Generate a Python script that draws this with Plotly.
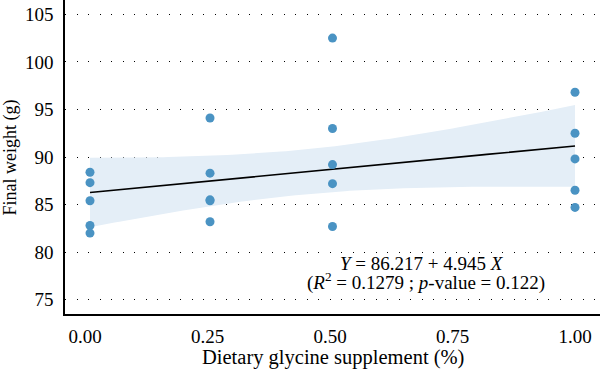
import numpy as np
import plotly.graph_objects as go

# Data
glycine = [0.01, 0.01, 0.01, 0.01, 0.01,
           0.255, 0.255, 0.255, 0.255, 0.255,
           0.505, 0.505, 0.505, 0.505, 0.505,
           1.0, 1.0, 1.0, 1.0, 1.0]
final_weight = [88.4, 87.3, 85.4, 82.8, 82.0,
                94.1, 88.3, 85.5, 85.4, 83.2,
                102.5, 93.0, 89.2, 87.2, 82.7,
                96.8, 92.5, 89.8, 86.5, 84.7]
intercept = 86.217
slope = 4.945
x_ticks = [0.0, 0.25, 0.5, 0.75, 1.0]
x_tick_labels = ["0.00", "0.25", "0.50", "0.75", "1.00"]
y_ticks = [75, 80, 85, 90, 95, 100, 105]

x = np.array(glycine)
y = np.array(final_weight)
n = len(x)
xs = np.linspace(x.min(), x.max(), 100)
yhat = intercept + slope * xs
resid = y - (intercept + slope * x)
s = np.sqrt(np.sum(resid ** 2) / (n - 2))
sxx = np.sum((x - x.mean()) ** 2)
t_crit = 2.101  # t(0.975, df=18)
half = t_crit * s * np.sqrt(1.0 / n + (xs - x.mean()) ** 2 / sxx)

FONT = "Liberation Serif"
FS = 19
fig = go.Figure()
fig.add_trace(go.Scatter(x=np.concatenate([xs, xs[::-1]]),
                         y=np.concatenate([yhat + half, (yhat - half)[::-1]]),
                         fill="toself", fillcolor="#e4eef7", line=dict(width=0),
                         mode="lines", hoverinfo="skip", showlegend=False))
fig.add_trace(go.Scatter(x=xs, y=yhat, mode="lines",
                         line=dict(color="black", width=1.6), showlegend=False))
fig.add_trace(go.Scatter(x=x, y=y, mode="markers",
                         marker=dict(color="#4a93c3", size=9), showlegend=False))

tf = dict(family=FONT, size=FS, color="black")
fig.add_annotation(xref="paper", yref="paper", x=0.668, y=0.160,
                   xanchor="center", yanchor="middle", showarrow=False,
                   text="<i>Y</i> = 86.217 + 4.945 <i>X</i>", font=tf)
fig.add_annotation(xref="paper", yref="paper", x=0.675, y=0.102,
                   xanchor="center", yanchor="middle", showarrow=False,
                   text="(<i>R</i><sup>2</sup> = 0.1279 ; <i>p</i>-value = 0.122)", font=tf)
# axis titles
fig.add_annotation(xref="paper", yref="paper", x=0.501, y=-0.140,
                   xanchor="center", yanchor="middle", showarrow=False,
                   text="Dietary glycine supplement (%)",
                   font=dict(family=FONT, size=20.5, color="black"))
fig.add_annotation(xref="paper", yref="paper", x=-0.102, y=0.5,
                   xanchor="center", yanchor="middle", showarrow=False, textangle=-90,
                   text="Final weight (g)",
                   font=dict(family=FONT, size=18, color="black"))

fig.update_layout(
    width=600, height=371,
    margin=dict(l=65, r=0, t=0, b=57),
    paper_bgcolor="white", plot_bgcolor="white",
    font=tf,
    xaxis=dict(range=[-0.041, 1.051], tickvals=x_ticks, ticktext=x_tick_labels,
               tickfont=tf, automargin=False, ticklabelstandoff=4,
               showgrid=False, zeroline=False, showline=True, linecolor="black",
               linewidth=1.5, ticks=""),
    yaxis=dict(range=[73.5, 106.5], tickvals=y_ticks, tickfont=tf, automargin=False,
               ticklabelstandoff=6,
               showgrid=True, gridcolor="black", gridwidth=1.3, griddash="1px,10.5px",
               zeroline=False, showline=True, linecolor="black", linewidth=1.5, ticks=""),
)
fig.write_html("out.html", config={"displayModeBar": False},
               post_script="document.body.style.margin='0';document.body.style.overflow='hidden';")
